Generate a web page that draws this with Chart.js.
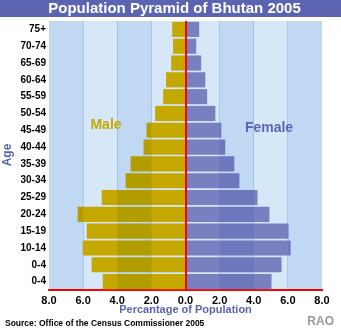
<!DOCTYPE html>
<html>
<head>
<meta charset="utf-8">
<script src="https://cdn.jsdelivr.net/npm/chart.js@4/dist/chart.umd.min.js"></script>
<style>
  html, body { margin: 0; padding: 0; background: #ffffff; }
  #wrap { width: 341px; height: 330px; position: relative; }
</style>
</head>
<body>
<div id="wrap"><canvas id="pyramid" width="341" height="330"></canvas></div>
<script>
// Age groups, top of the pyramid first
const ageGroups = ['75+', '70-74', '65-69', '60-64', '55-59', '50-54', '45-49', '40-44',
                   '35-39', '30-34', '25-29', '20-24', '15-19', '10-14', '0-4', '0-4'];
// Share of total population, in percent
const malePct   = [0.78, 0.73, 0.84, 1.14, 1.31, 1.78, 2.28, 2.46, 3.22, 3.51, 4.91, 6.32, 5.79, 6.02, 5.50, 4.85];
const femalePct = [0.80, 0.63, 0.92, 1.16, 1.27, 1.75, 2.10, 2.33, 2.86, 3.16, 4.22, 4.92, 6.04, 6.16, 5.63, 5.04];
// Percentage axis tick values
const pctTicks = [-8, -6, -4, -2, 0, 2, 4, 6, 8];

const TITLE = 'Population Pyramid of Bhutan 2005';
const SOURCE = 'Source: Office of the Census Commissioner 2005';
const FONT = '"Liberation Sans", Arial, sans-serif';
const BLUE = '#5a64b0';
const RED = '#ff0000';

// Light-blue plot background, title bar and footer texts
const backdrop = {
  id: 'backdrop',
  beforeDraw(chart) {
    const { ctx, chartArea: a } = chart;
    ctx.save();
    ctx.fillStyle = '#ffffff';
    ctx.fillRect(0, 0, chart.width, chart.height);
    ctx.fillStyle = BLUE;
    ctx.fillRect(0, 0, chart.width, 17);
    ctx.fillStyle = '#d6e7f8';
    ctx.fillRect(a.left, a.top, a.right - a.left, a.bottom - a.top);
    ctx.restore();
  },
  afterDatasetsDraw(chart) {
    const { ctx, chartArea: a, scales: { x } } = chart;
    ctx.save();
    // darker alternating bands, shading whatever lies beneath them
    ctx.globalCompositeOperation = 'multiply';
    ctx.fillStyle = 'rgb(230,239,249)';
    [[-8, -6], [-4, -2], [2, 4], [6, 8]].forEach(([lo, hi]) => {
      const x0 = x.getPixelForValue(lo), x1 = x.getPixelForValue(hi);
      ctx.fillRect(x0, a.top, x1 - x0, a.bottom - a.top);
    });
    ctx.globalCompositeOperation = 'source-over';
    // zero line
    const zx = Math.round(x.getPixelForValue(0));
    ctx.strokeStyle = RED;
    ctx.lineWidth = 2;
    ctx.beginPath();
    ctx.moveTo(zx, a.top);
    ctx.lineTo(zx, a.bottom);
    ctx.stroke();
    ctx.restore();
  },
  afterDraw(chart) {
    const { ctx, chartArea: a, scales: { x } } = chart;
    ctx.save();
    ctx.textBaseline = 'middle';
    ctx.textAlign = 'center';
    ctx.fillStyle = '#ffffff';
    ctx.font = 'bold 15px ' + FONT;
    ctx.fillText(TITLE, 174.5, 9);

    ctx.font = 'bold 14px ' + FONT;
    ctx.fillStyle = '#c4a800';
    ctx.fillText('Male', 106, 125);
    ctx.fillStyle = BLUE;
    ctx.fillText('Female', 269, 128.5);

    ctx.font = 'bold 11px ' + FONT;
    ctx.fillStyle = BLUE;
    ctx.fillText('Percantage of Population', x.getPixelForValue(0), 310);

    ctx.save();
    ctx.translate(8, 155);
    ctx.rotate(-Math.PI / 2);
    ctx.font = 'bold 12px ' + FONT;
    ctx.fillText('Age', 0, 0);
    ctx.restore();

    ctx.textAlign = 'left';
    ctx.fillStyle = '#000000';
    ctx.font = 'bold 8.5px ' + FONT;
    ctx.fillText(SOURCE, 5, 324);

    ctx.textAlign = 'right';
    ctx.fillStyle = '#999999';
    ctx.font = 'bold 12px ' + FONT;
    ctx.fillText('RAO', 334, 322);
    ctx.restore();
  }
};

new Chart(document.getElementById('pyramid'), {
  type: 'bar',
  data: {
    labels: ageGroups,
    datasets: [
      { label: 'Male', data: malePct.map(v => -v), backgroundColor: '#c4a800' },
      { label: 'Female', data: femalePct, backgroundColor: '#7880c0' }
    ]
  },
  options: {
    indexAxis: 'y',
    responsive: false,
    animation: false,
    devicePixelRatio: 1,
    layout: { padding: { top: 21, right: 19, left: 0, bottom: 0 } },
    datasets: { bar: { categoryPercentage: 1, barPercentage: 0.9 } },
    plugins: { legend: { display: false }, title: { display: false }, tooltip: { enabled: false } },
    scales: {
      x: {
        stacked: true,
        min: pctTicks[0],
        max: pctTicks[pctTicks.length - 1],
        afterBuildTicks(scale) { scale.ticks = pctTicks.map(v => ({ value: v })); },
        afterFit(scale) { scale.height = 40; },
        ticks: {
          color: '#000000',
          font: { family: FONT, size: 11, weight: 'bold' },
          padding: 4,
          maxRotation: 0,
          callback: v => Math.abs(v).toFixed(1)
        },
        grid: {
          drawTicks: false,
          color: ctx => (Math.abs(ctx.tick.value) === 8 || ctx.tick.value === 0) ? 'rgba(0,0,0,0)' : '#a9cbef',
          lineWidth: 1
        },
        border: { display: true, color: RED, width: 2 }
      },
      y: {
        stacked: true,
        afterFit(scale) { scale.width = 49; },
        ticks: {
          color: '#000000',
          autoSkip: false,
          font: { family: FONT, size: 10, weight: 'bold' },
          padding: 3
        },
        grid: { display: false, drawTicks: false },
        border: { display: false }
      }
    }
  },
  plugins: [backdrop]
});
</script>
</body>
</html>
